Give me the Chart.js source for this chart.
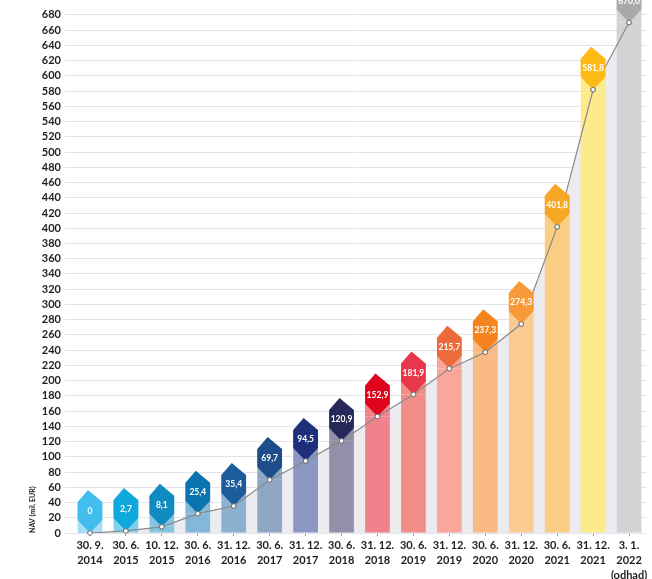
<!DOCTYPE html>
<html>
<head>
<meta charset="utf-8">
<script src="https://cdn.jsdelivr.net/npm/chart.js@4/dist/chart.umd.min.js"></script>
<style>
  html, body { margin: 0; padding: 0; background: #fff; }
  #wrap { width: 652px; height: 579px; }
</style>
</head>
<body>
<div id="wrap"><canvas id="navChart" width="652" height="579"></canvas></div>
<script>
// dates of the NAV readings (last one is an estimate)
const dateLabels = [
  ['30. 9.', '2014'], ['30. 6.', '2015'], ['10. 12.', '2015'], ['30. 6.', '2016'],
  ['31. 12.', '2016'], ['30. 6.', '2017'], ['31. 12.', '2017'], ['30. 6.', '2018'],
  ['31. 12.', '2018'], ['30. 6.', '2019'], ['31. 12.', '2019'], ['30. 6.', '2020'],
  ['31. 12.', '2020'], ['30. 6.', '2021'], ['31. 12.', '2021'], ['3. 1.', '2022', '(odhad)']
];

// NAV in mil. EUR
const navValues = [0, 2.7, 8.1, 25.4, 35.4, 69.7, 94.5, 120.9, 152.9, 181.9, 215.7, 237.3, 274.3, 401.8, 581.8, 670.0];
const valueLabels = ['0', '2,7', '8,1', '25,4', '35,4', '69,7', '94,5', '120,9', '152,9', '181,9', '215,7', '237,3', '274,3', '401,8', '581,8', '670,0'];

const tagColors = [
  '#43bdee', '#0fa8dc', '#118ac0', '#0b74b0', '#1b5d9b', '#1e4d8b', '#1d2f7b', '#26285a',
  '#e0031c', '#e8364b', '#ed6a3b', '#f5841f', '#f79a37', '#f5a725', '#fdba14', '#a9a9ac'
];
const barColors = [
  '#a6def6', '#7fd0ed', '#87c3df', '#83b8d8', '#8bb0d0', '#8fa7c5', '#8a97c4', '#928fa9',
  '#f1818a', '#f18c87', '#fba69b', '#fbb983', '#fcca93', '#f9ce82', '#fdea8b', '#d3d3d6'
];

const yMax = 693;
const yTopTick = 680;
const yStep = 20;

const lbFont = 'Lato, "Open Sans", sans-serif';

/**
 * Draws the label tags above each point: bar colour is carried up behind the tag,
 * then the tag itself with the value text
 */
const navTags = {
  id: 'navTags',
  afterDatasetDraw(chart, args) {
    if (args.index !== 1) return;
    const { ctx } = chart;
    const lineMeta = chart.getDatasetMeta(0);
    args.meta.data.forEach((bar, i) => {
      const py = lineMeta.data[i].y;
      const half = bar.width / 2;
      ctx.save();
      ctx.fillStyle = barColors[i];
      ctx.fillRect(bar.x - half, py - 31, bar.width, Math.min(31, bar.base - py + 31));
      ctx.restore();
    });
  },
  afterDatasetsDraw(chart) {
    const { ctx } = chart;
    const barMeta = chart.getDatasetMeta(1);
    const lineMeta = chart.getDatasetMeta(0);
    barMeta.data.forEach((bar, i) => {
      const pt = lineMeta.data[i];
      const py = pt.y;
      const half = bar.width / 2;
      const left = bar.x - half;
      const right = bar.x + half;
      const yb = py - 13;
      const yt = py - 31;
      const yp = py - 43;

      ctx.save();
      ctx.beginPath();
      ctx.moveTo(left, yt);
      ctx.lineTo(bar.x - bar.width * 0.08, yp);
      ctx.lineTo(right, yt);
      ctx.lineTo(right, yb);
      ctx.lineTo(pt.x, py);
      ctx.lineTo(left, yb);
      ctx.closePath();
      ctx.fillStyle = tagColors[i];
      ctx.fill();

      ctx.fillStyle = '#fff';
      ctx.font = 'bold 8.5px ' + lbFont;
      ctx.textAlign = 'center';
      ctx.textBaseline = 'middle';
      ctx.fillText(valueLabels[i], bar.x, (yt + yb) / 2 + 0.5);
      ctx.restore();

      // point goes back on top of the tag tip
      pt.draw(ctx);
    });
  },
};

const ctx = document.getElementById('navChart').getContext('2d');

new Chart(ctx, {
  type: 'bar',
  data: {
    labels: dateLabels,
    datasets: [
      {
        type: 'line',
        data: navValues,
        order: 0,
        borderColor: '#8a8a8a',
        borderWidth: 1.2,
        pointRadius: 2.3,
        pointBorderWidth: 1,
        pointBackgroundColor: '#fff',
        pointBorderColor: '#6f6f6f',
        tension: 0,
      },
      {
        type: 'bar',
        data: navValues,
        order: 1,
        backgroundColor: barColors,
        categoryPercentage: 0.8,
        barPercentage: 0.86,
      },
      {
        // grey area under the NAV line, behind the bars
        type: 'line',
        data: navValues,
        order: 2,
        fill: 'origin',
        backgroundColor: '#ebebf0',
        borderWidth: 0,
        pointRadius: 0,
        tension: 0,
      },
    ],
  },
  options: {
    responsive: false,
    animation: false,
    layout: { padding: { left: 0, right: 2, top: 0, bottom: 0 } },
    plugins: {
      legend: { display: false },
      tooltip: { enabled: false },
    },
    scales: {
      x: {
        border: { display: false },
        grid: {
          offset: false,
          drawOnChartArea: false,
          color: 'rgba(0,0,0,0)',
          tickColor: '#9a9a9a',
          tickLength: 3,
        },
        ticks: {
          color: '#1e1e1e',
          padding: 2,
          maxRotation: 0,
          autoSkip: false,
          font: { family: lbFont, weight: 'bold', size: 11, lineHeight: 1.36 },
        },
        afterFit(scale) {
          scale.height = 46;
          scale.paddingLeft = 0;
          scale.paddingRight = 0;
        },
      },
      y: {
        min: 0,
        max: yMax,
        border: { display: false },
        grid: { color: '#e3e3eb', tickLength: 7 },
        ticks: {
          stepSize: yStep,
          includeBounds: false,
          autoSkip: false,
          color: '#1e1e1e',
          padding: 4,
          font: { family: lbFont, weight: 'bold', size: 11 },
        },
        afterBuildTicks(axis) {
          axis.ticks = axis.ticks.filter(t => t.value <= yTopTick);
        },
        title: {
          display: true,
          text: 'NAV (mil. EUR)',
          align: 'start',
          color: '#1e1e1e',
          padding: { top: 29, bottom: 0 },
          font: { family: lbFont, weight: 'bold', size: 7 },
        },
        afterFit(scale) {
          scale.width = 72;
          scale.paddingTop = 0;
          scale.paddingBottom = 0;
        },
      },
    },
  },
  plugins: [navTags],
});
</script>
</body>
</html>
